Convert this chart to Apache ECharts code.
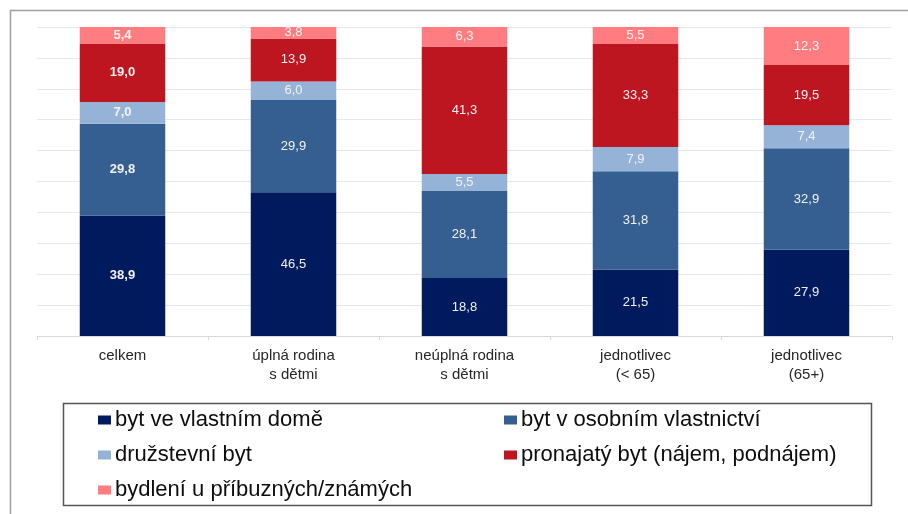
<!DOCTYPE html>
<html>
<head>
<meta charset="utf-8">
<script src="https://cdn.jsdelivr.net/npm/echarts@6/dist/echarts.min.js"></script>
<style>
  html, body { margin: 0; padding: 0; background: #fff; }
  #chart { width: 908px; height: 514px; }
</style>
</head>
<body>
<div id="chart"></div>
<script>
  var categories = ['celkem', 'úplná rodina\ns dětmi', 'neúplná rodina\ns dětmi', 'jednotlivec\n(< 65)', 'jednotlivec\n(65+)']
  var seriesNames = ['byt ve vlastním domě', 'byt v osobním vlastnictví', 'družstevní byt', 'pronajatý byt (nájem, podnájem)', 'bydlení u příbuzných/známých']
  var vlastniDum = [38.9, 46.5, 18.8, 21.5, 27.9]
  var osobniVlastnictvi = [29.8, 29.9, 28.1, 31.8, 32.9]
  var druzstevni = [7.0, 6.0, 5.5, 7.9, 7.4]
  var pronajaty = [19.0, 13.9, 41.3, 33.3, 19.5]
  var pribuzni = [5.4, 3.8, 6.3, 5.5, 12.3]
  var colors = ['#001a5e', '#365f91', '#95b3d7', '#be1620', '#ff7c80']

  var values = [vlastniDum, osobniVlastnictvi, druzstevni, pronajaty, pribuzni]

  function makeSeries (idx) {
    return {
      name: seriesNames[idx],
      type: 'bar',
      stack: 'total',
      barWidth: '50%',
      itemStyle: { color: colors[idx] },
      label: {
        show: true,
        position: 'inside',
        color: '#f2f2f2',
        fontSize: 13,
        fontFamily: 'Liberation Sans',
        formatter: function (p) {
          return p.value.toFixed(1).replace('.', ',')
        }
      },
      data: values[idx].map(function (v, i) {
        // first column has bold labels
        return i === 0 ? { value: v, label: { fontWeight: 'bold' } } : v
      })
    }
  }

  var legendStyle = {
    orient: 'vertical',
    top: 404,
    itemWidth: 13,
    itemHeight: 9,
    itemGap: 13,
    icon: 'rect',
    textStyle: { fontSize: 22, color: '#0d0d0d', padding: [0, 0, 0, -1] }
  }

  var chart = echarts.init(document.getElementById('chart'))
  chart.setOption({
    animation: false,
    color: colors,
    textStyle: { fontFamily: 'Liberation Sans' },
    grid: { left: 37, right: 16, top: 27, bottom: 178 },
    xAxis: {
      type: 'category',
      data: categories,
      axisLine: { lineStyle: { color: '#d9d9d9' } },
      axisTick: { show: true, length: 4, lineStyle: { color: '#d9d9d9' } },
      axisLabel: { color: '#262626', fontSize: 15, lineHeight: 19, margin: 10 }
    },
    yAxis: {
      type: 'value',
      min: 0,
      max: 100,
      interval: 10,
      axisLabel: { show: false },
      axisLine: { show: false },
      axisTick: { show: false },
      splitLine: { lineStyle: { color: '#e8e8e8' } }
    },
    legend: [
      Object.assign({ left: 93, data: [seriesNames[0], seriesNames[2], seriesNames[4]] }, legendStyle),
      Object.assign({ left: 499, data: [seriesNames[1], seriesNames[3]] }, legendStyle)
    ],
    graphic: [
      {
        type: 'rect',
        shape: { x: 10.5, y: 10.5, width: 920, height: 520 },
        style: { fill: 'none', stroke: '#a0a0a0', lineWidth: 1.5 },
        silent: true
      },
      {
        type: 'rect',
        shape: { x: 63.5, y: 403.5, width: 808, height: 102 },
        style: { fill: 'none', stroke: '#555', lineWidth: 1.5 },
        silent: true
      }
    ],
    series: [0, 1, 2, 3, 4].map(makeSeries)
  })
</script>
</body>
</html>
